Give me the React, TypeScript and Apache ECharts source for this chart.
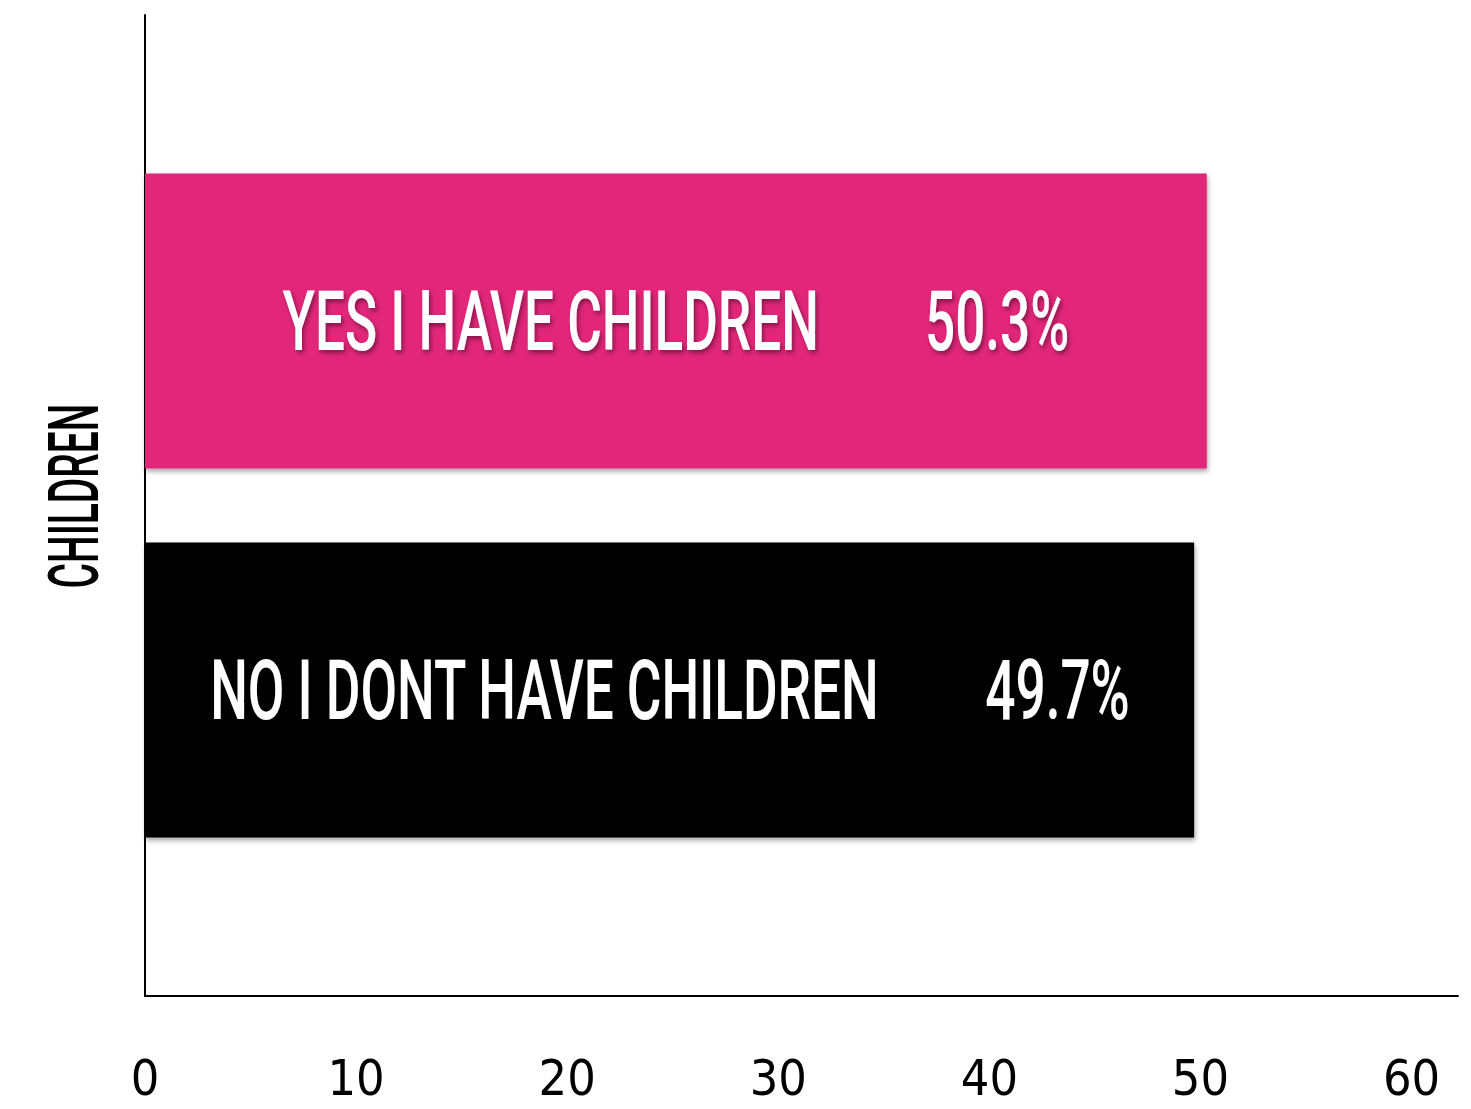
import React, { useEffect, useRef } from "react";
import * as echarts from "echarts";

const categories: string[] = ["NO I DONT HAVE CHILDREN", "YES I HAVE CHILDREN"];
const values: number[] = [49.7, 50.3];
const barColors: string[] = ["#000000", "#E2277A"];
const tickValues: number[] = [0, 10, 20, 30, 40, 50, 60];
const axisTitle = "CHILDREN";

const AXIS_FONT = '"DejaVu Sans Condensed", "Liberation Sans Narrow", sans-serif';
const LABEL_FONT = 'Roboto, "Liberation Sans", sans-serif';
const X_MAX = 62.2;
const SX = 0.885;
const SY = 1.4;

export default function App() {
  const ref = useRef<HTMLDivElement>(null);
  useEffect(() => {
    if (!ref.current) return;
    const chart = echarts.init(ref.current, undefined, { renderer: "svg" });
    const gridL = 145;
    const gridR = 13;
    const shadow = {
      textShadowColor: "rgba(0,0,0,0.4)",
      textShadowBlur: 4,
      textShadowOffsetX: 2,
      textShadowOffsetY: 3,
    };
    chart.setOption({
      animation: false,
      backgroundColor: "#ffffff",
      grid: [
        { left: gridL, right: gridR, top: 15, bottom: 113, containLabel: false },
        { left: gridL, right: gridR, top: 136.5, bottom: 234.5, containLabel: false },
      ],
      graphic: [
        {
          type: "text",
          x: 74,
          y: 496,
          rotation: Math.PI / 2,
          scaleX: 0.78,
          scaleY: 1.4,
          style: {
            text: axisTitle,
            fill: "#000",
            fontFamily: LABEL_FONT,
            fontSize: 50,
            fontWeight: 500,
            align: "center",
            verticalAlign: "middle",
          },
        },
      ],
      xAxis: [
        {
          gridIndex: 0,
          type: "value",
          min: 0,
          max: X_MAX,
          interval: 10,
          axisLine: { show: true, lineStyle: { color: "#000", width: 2 } },
          axisTick: { show: false },
          splitLine: { show: false },
          axisLabel: {
            show: true,
            color: "#000",
            fontFamily: AXIS_FONT,
            fontSize: 50,
            margin: 57,
            formatter: (v: number) => (tickValues.indexOf(v) >= 0 ? String(v) : ""),
          },
        },
        {
          gridIndex: 1,
          type: "value",
          min: 0,
          max: X_MAX,
          show: false,
        },
      ],
      yAxis: [
        {
          gridIndex: 0,
          type: "value",
          min: 0,
          max: 1,
          axisLine: { show: true, lineStyle: { color: "#000", width: 2 } },
          axisTick: { show: false },
          axisLabel: { show: false },
          splitLine: { show: false },
        },
        {
          gridIndex: 1,
          type: "category",
          data: categories,
          show: false,
        },
      ],
      series: [
        {
          type: "bar",
          xAxisIndex: 1,
          yAxisIndex: 1,
          barCategoryGap: "20%",
          data: values.map((v, i) => ({
            value: v,
            itemStyle: {
              color: barColors[i],
              shadowColor: "rgba(0,0,0,0.35)",
              shadowBlur: 5,
              shadowOffsetX: 1,
              shadowOffsetY: 3,
            },
          })),
          label: { show: false },
        },
        {
          type: "custom",
          xAxisIndex: 1,
          yAxisIndex: 1,
          data: values.map((v, i) => [v, i]),
          encode: { x: 0, y: 1 },
          silent: true,
          z: 5,
          renderItem: (params: any, api: any) => {
            const idx = params.dataIndex;
            const v = api.value(0);
            const c = api.value(1);
            const p1 = api.coord([v, c]);
            const p0 = api.coord([0, c]);
            return {
              type: "text",
              x: (p0[0] + p1[0]) / 2,
              y: p1[1],
              scaleX: SX,
              scaleY: SY,
              style: {
                text: `{n|${categories[idx]}}{g|}{v|${values[idx]}%}`,
                align: "center",
                verticalAlign: "middle",
                rich: {
                  n: { fill: "#fff", fontFamily: LABEL_FONT, fontSize: 60, fontWeight: 500, ...shadow },
                  g: { width: 106 / SX },
                  v: { fill: "#fff", fontFamily: LABEL_FONT, fontSize: 60, fontWeight: 500, ...shadow },
                },
              },
            };
          },
        },
      ],
    });
    return () => chart.dispose();
  }, []);
  return <div ref={ref} style={{ width: 1471, height: 1109, position: "absolute", left: 0, top: 0 }} />;
}
